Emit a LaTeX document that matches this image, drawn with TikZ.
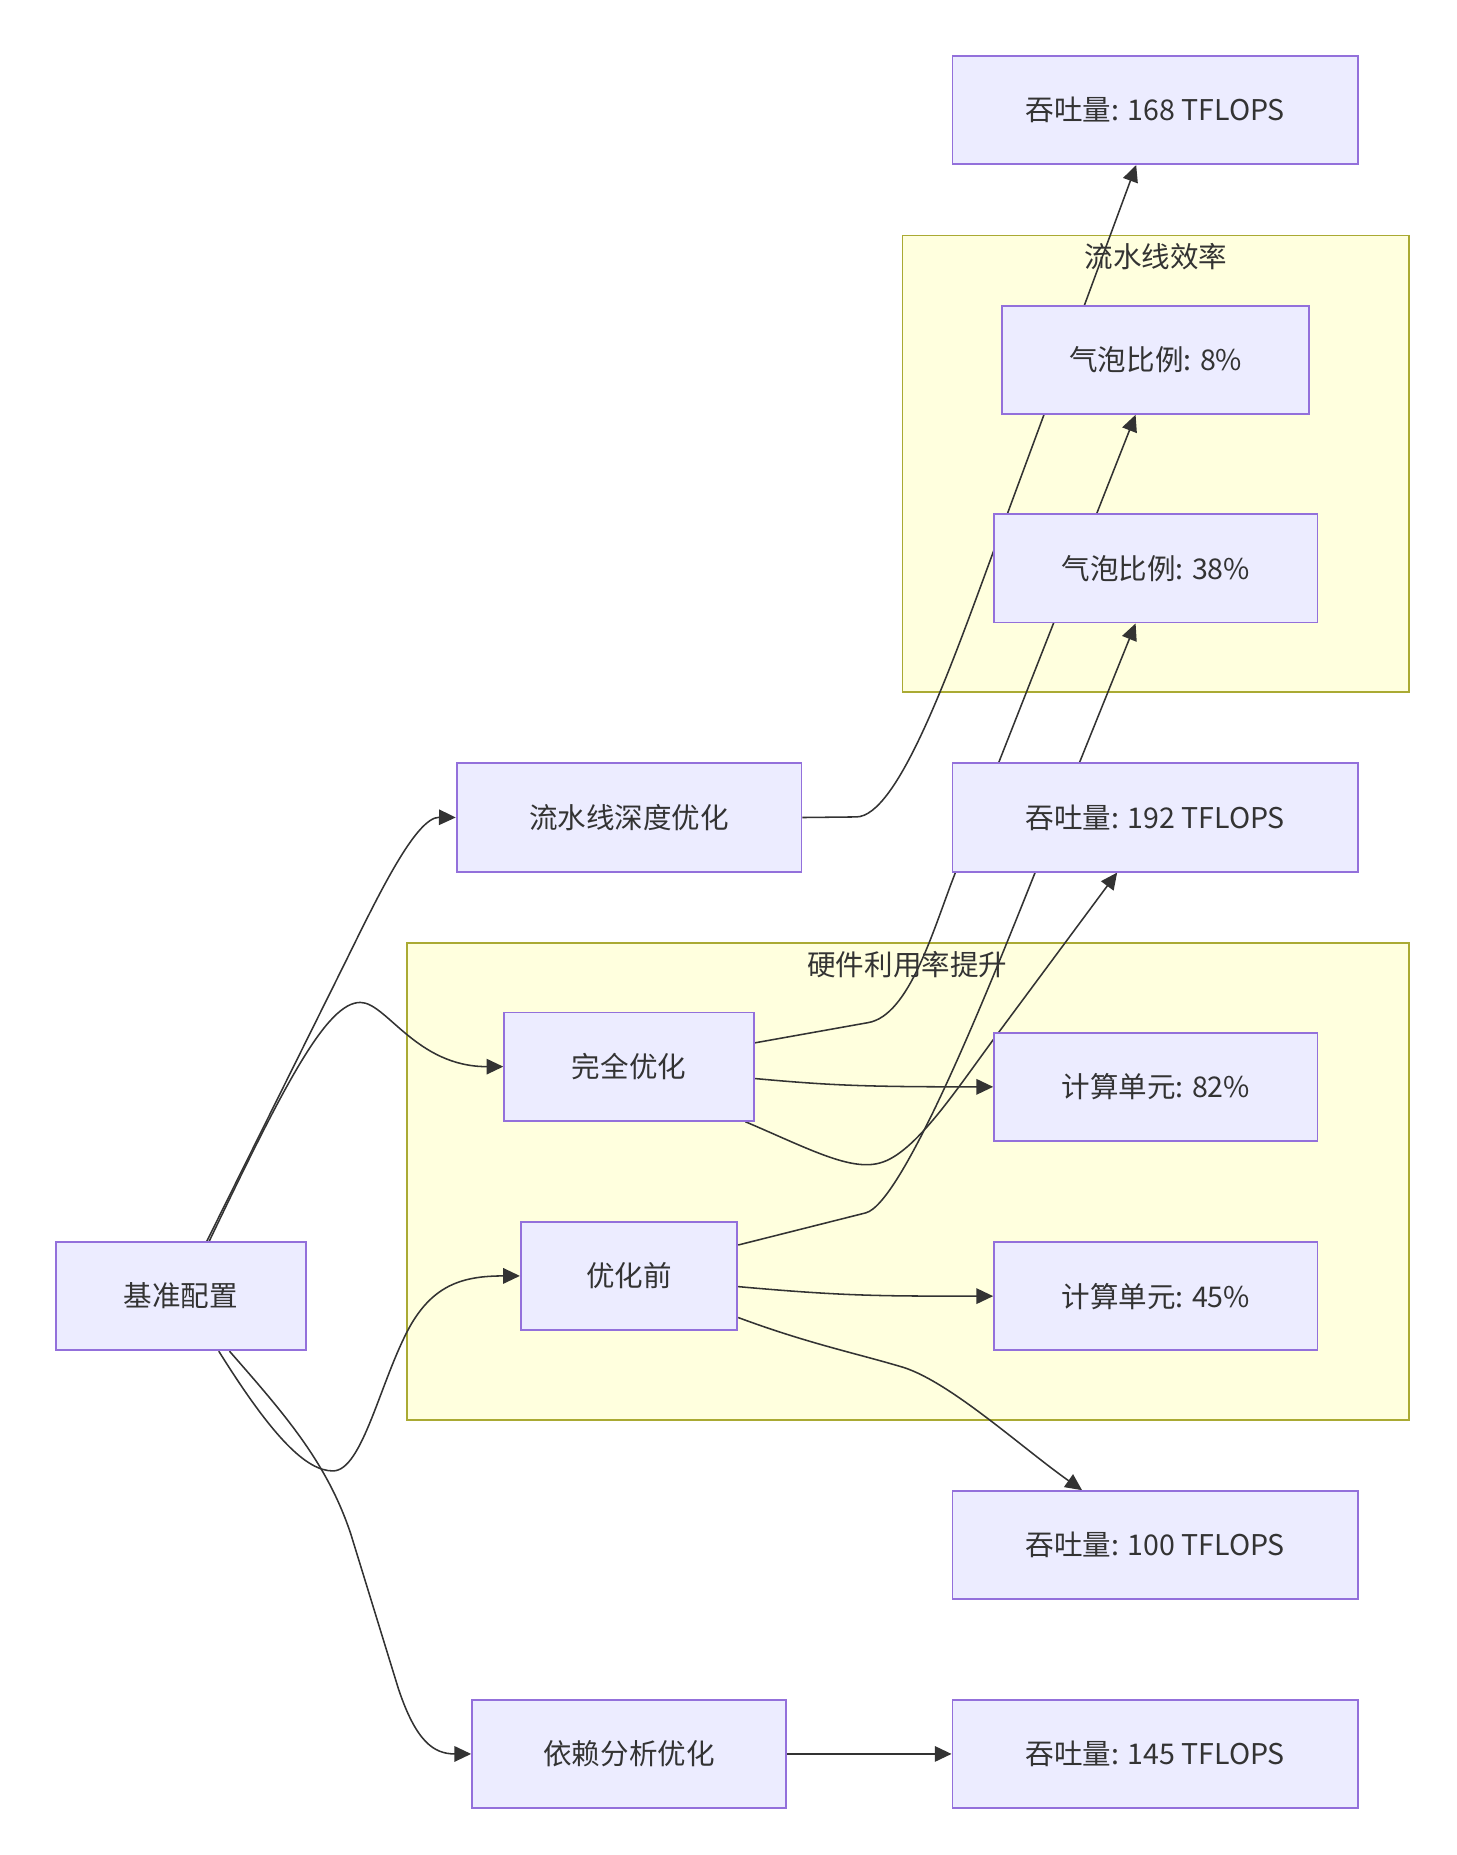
\documentclass[tikz,border=0pt]{standalone}
\usepackage{fontspec}
\setmainfont{Noto Sans CJK SC}
\usetikzlibrary{arrows.meta, positioning}

\definecolor{nodefill}{HTML}{ECECFF}
\definecolor{nodeline}{HTML}{9370DB}
\definecolor{grpfill}{HTML}{FFFFDE}
\definecolor{grpline}{HTML}{AAAA33}
\definecolor{ink}{HTML}{333333}

\pgfdeclarelayer{back}
\pgfdeclarelayer{mid}
\pgfsetlayers{back,mid,main}

\begin{document}
\begin{tikzpicture} [x=0.5pt, y=-0.5pt,
                box/.style = {draw=nodeline, fill=nodefill, line width=0.8pt,
                    text=ink, inner sep=0pt, minimum height=45.5pt,
                    font=\fontsize{12}{14}\selectfont},
                grp/.style = {draw=grpline, fill=grpfill, line width=0.8pt},
                grptitle/.style = {text=ink, inner sep=0pt,
                    font=\fontsize{12}{14}\selectfont},
                link/.style = {draw=ink, line width=0.65pt,
                    -{Stealth[inset=0pt, length=7pt, width=6.5pt]}}]

            \useasboundingbox (0,0) rectangle (1225,1560);

            % Groups
            \begin{pgfonlayer}{back}
                \draw [grp] (759,198) rectangle (1185,582);
                \draw [grp] (342,793) rectangle (1185,1194);
            \end{pgfonlayer}
            \node (pipetitle) [grptitle] at (972,216) {流水线效率};
            \node (hwtitle) [grptitle] at (763,811) {硬件利用率提升};

            % Baseline
            \node (base) [box, minimum width=105pt] at (152,1090) {基准配置};

            % Optimisations
            \node (pipe) [box, minimum width=145pt] at (529,687.5) {流水线深度优化};
            \node (full) [box, minimum width=105pt] at (529,897) {完全优化};
            \node (before) [box, minimum width=91pt] at (529,1073) {优化前};
            \node (dep) [box, minimum width=132pt] at (529,1475) {依赖分析优化};

            % Bubble ratio
            \node (bub8) [box, minimum width=129pt] at (972,302.5) {气泡比例: 8\%};
            \node (bub38) [box, minimum width=136pt] at (972,478) {气泡比例: 38\%};

            % Compute units
            \node (cu82) [box, minimum width=136pt] at (972,914) {计算单元: 82\%};
            \node (cu45) [box, minimum width=136pt] at (972,1090) {计算单元: 45\%};

            % Throughput
            \node (t168) [box, minimum width=170.5pt] at (971.5,92.5) {吞吐量: 168 TFLOPS};
            \node (t192) [box, minimum width=170.5pt] at (971.5,687.5) {吞吐量: 192 TFLOPS};
            \node (t100) [box, minimum width=170.5pt] at (971.5,1299.5) {吞吐量: 100 TFLOPS};
            \node (t145) [box, minimum width=170.5pt] at (971.5,1475) {吞吐量: 145 TFLOPS};

            % Arrows
            \begin{pgfonlayer}{mid}
            \draw [link] ([xshift=11pt]base.north) -- (290,810)
                .. controls (319,751) and (350,687) .. (pipe.west);
            \draw [link] ([xshift=12pt]base.north)
                .. controls (240,910) and (275,843) .. (303,843)
                .. controls (325,843) and (350,897) .. (full.west);
            \draw [link] ([xshift=16pt]base.south)
                .. controls (230,1210) and (258,1237) .. (280,1237)
                .. controls (305,1237) and (320,1160) .. (345,1115)
                .. controls (365,1080) and (390,1073) .. (before.west);
            \draw [link] ([xshift=20.5pt]base.south)
                .. controls (240,1190) and (275,1230) .. (295,1290) -- (335,1420)
                .. controls (350,1465) and (365,1475) .. (dep.west);

            \draw [link] (pipe.east) -- (720,687)
                .. controls (755,687) and (799,563) .. (835,465)
                -- ([xshift=-8pt]t168.south);

            \draw [link] ([yshift=10pt]full.east) -- (730,860)
                .. controls (765,854) and (785,781) .. (803,735)
                -- ([xshift=-8.5pt]bub8.south);
            \draw [link] ([yshift=-5pt]full.east)
                .. controls (700,913) and (730,914) .. (cu82.west);
            \draw [link] ([xshift=-4pt]full.south east)
                .. controls (680,966) and (715,985) .. (740,978)
                .. controls (770,970) and (805,915) .. (840,868)
                -- ([xshift=-16pt]t192.south);

            \draw [link] ([yshift=13pt]before.east) -- (728,1020)
                .. controls (760,1012) and (836,820) .. (870,735)
                -- ([xshift=-8.5pt]bub38.south);
            \draw [link] ([yshift=-4.5pt]before.east)
                .. controls (710,1090) and (740,1090) .. (cu45.west);
            \draw [link] ([yshift=-17.5pt]before.east)
                .. controls (680,1130) and (720,1138) .. (760,1150)
                .. controls (800,1163) and (860,1218) .. ([xshift=-30.75pt]t100.north);

            \draw [link] (dep) -- (t145);
            \end{pgfonlayer}
\end{tikzpicture}
\end{document}
